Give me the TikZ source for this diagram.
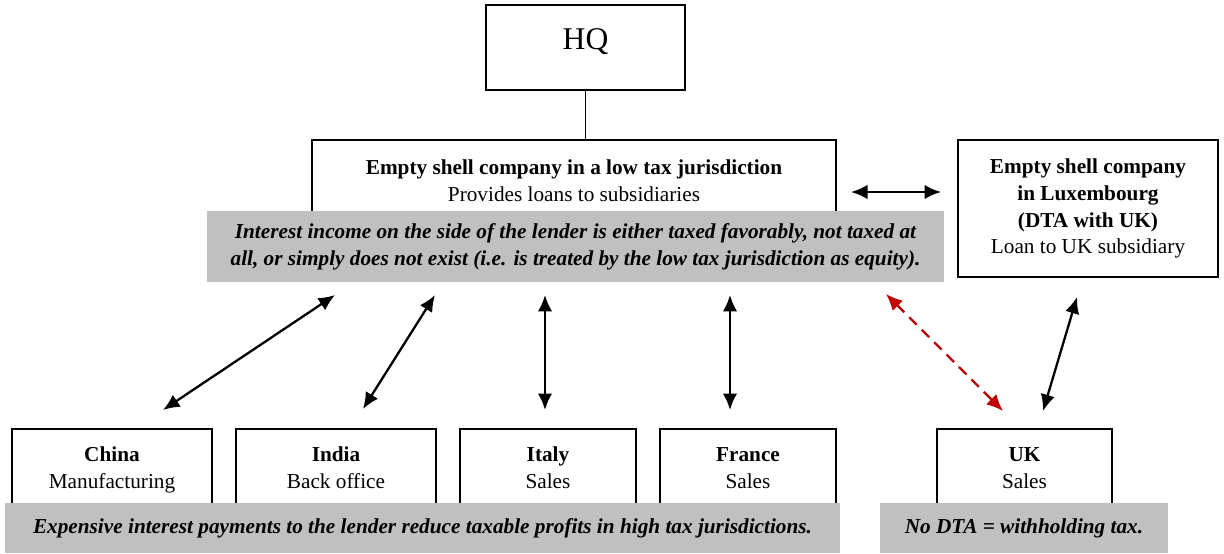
\documentclass[tikz,border=0pt]{standalone}
\usepackage{fontspec}
\setmainfont{Liberation Serif}
\usepackage{tikz}
\usetikzlibrary{arrows.meta,positioning,calc}
\definecolor{notegray}{HTML}{C0C0C0}
\definecolor{dtared}{HTML}{C00000}
\tikzstyle{unit} = [rectangle, draw, line width=1.1pt, fill=white, align=center, font=\fontsize{12.1}{15.3}\selectfont]
\tikzstyle{note} = [rectangle, fill=notegray, align=center, font=\fontsize{12.1}{15.3}\selectfont\bfseries\itshape]
\tikzstyle{link} = [{Latex[length=3.3mm,width=2.9mm]}-{Latex[length=3.3mm,width=2.9mm]}, line width=1.3pt]

\begin{document}
\begin{tikzpicture}[x=0.02cm, y=-0.02cm]
    \useasboundingbox (0,0) rectangle (1224,554);

    % Zentrale
    \node[unit, minimum width=3.98cm, minimum height=1.7cm, text depth=10pt, font=\fontsize{18}{20}\selectfont] (hq) at (585.5,47.5) {HQ};

    % Finanzierungsgesellschaften
    \node[unit, minimum width=10.48cm, minimum height=1.64cm] (shell) at (574,181) {\textbf{Empty shell company in a low tax jurisdiction}\\Provides loans to subsidiaries};
    \node[note, minimum width=14.74cm, minimum height=1.42cm] (shellnote) at (575.5,246.5) {Interest income on the side of the lender is either taxed favorably, not taxed at\\all, or simply does not exist (i.e. is treated by the low tax jurisdiction as equity).};
    \node[unit, minimum width=5.2cm, minimum height=2.74cm] (lux) at (1088,208.5) {\textbf{Empty shell company}\\\textbf{in Luxembourg}\\\textbf{(DTA with UK)}\\Loan to UK subsidiary};

    % Tochtergesellschaften
    \node[unit, minimum width=4cm, minimum height=1.64cm] (china) at (112,470) {\textbf{China}\strut\\Manufacturing\strut};
    \node[unit, minimum width=4cm, minimum height=1.64cm] (india) at (336,470) {\textbf{India}\strut\\Back office\strut};
    \node[unit, minimum width=3.52cm, minimum height=1.64cm] (italy) at (548,470) {\textbf{Italy}\strut\\Sales\strut};
    \node[unit, minimum width=3.52cm, minimum height=1.64cm] (france) at (748,470) {\textbf{France}\strut\\Sales\strut};
    \node[unit, minimum width=3.5cm, minimum height=1.64cm] (uk) at (1024.5,470) {\textbf{UK}\strut\\Sales\strut};
    \node[note, minimum width=16.7cm, minimum height=1cm] (subnote) at (422.5,528) {Expensive interest payments to the lender reduce taxable profits in high tax jurisdictions.};
    \node[note, minimum width=5.76cm, minimum height=1cm] (uknote) at (1024,528) {No DTA = withholding tax.};

    % Pfeilenden
    \coordinate (c1) at (335,295);  \coordinate (c2) at (163,410);
    \coordinate (i1) at (435,295);  \coordinate (i2) at (363,409);
    \coordinate (t1) at (545,295);  \coordinate (t2) at (545,410);
    \coordinate (f1) at (730,295);  \coordinate (f2) at (730,410);
    \coordinate (u1) at (886,294);  \coordinate (u2) at (1003,411);
    \coordinate (l1) at (1077,297); \coordinate (l2) at (1043,411);
    \coordinate (s1) at (851,192);  \coordinate (s2) at (941,192);

    % Verbindungen
    \draw[line width=1.1pt] (hq.south) -- (hq.south |- shell.north);
    \draw[link] (s1) -- (s2);
    \draw[link] (c1) -- (c2);
    \draw[link] (i1) -- (i2);
    \draw[link] (t1) -- (t2);
    \draw[link] (f1) -- (f2);
    \draw[link, dtared, dashed, dash pattern=on 6pt off 4pt] (u1) -- (u2);
    \draw[link] (l1) -- (l2);
\end{tikzpicture}
\end{document}
